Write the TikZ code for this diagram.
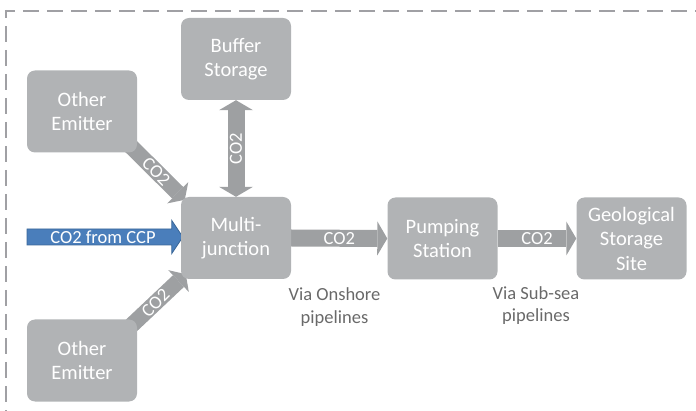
\documentclass[tikz,border=0pt]{standalone}
\usepackage{fontspec}
\setmainfont{Carlito}
\usetikzlibrary{arrows.meta,calc,backgrounds}
\definecolor{boxgray}{RGB}{177,179,181}
\definecolor{arrowgray}{RGB}{158,160,162}
\definecolor{ccpblue}{RGB}{74,126,187}
\definecolor{ccpedge}{RGB}{58,103,152}
\definecolor{labelgray}{RGB}{105,105,105}
\definecolor{framegray}{RGB}{160,160,164}
\begin{document}
\begin{tikzpicture}[x=1pt,y=-1pt,
  unit/.style={fill=boxgray, rounded corners=8pt, minimum width=110pt,
    minimum height=82pt, inner sep=0pt, text=white, align=center,
    font=\fontsize{20.5}{24.5}\selectfont},
  flow/.style={draw=arrowgray, line width=17pt},
  diagflow/.style={draw=arrowgray, line width=16pt},
  flowtip/.tip={Triangle[length=10pt,width=34pt,line width=0pt]},
  diagtip/.tip={Triangle[length=10pt,width=30pt,line width=0pt]},
  arrowtext/.style={text=white, inner sep=0pt, font=\fontsize{18.5}{22}\selectfont},
  note/.style={text=labelgray, align=center, inner sep=0pt,
    font=\fontsize{18.5}{22.5}\selectfont},
  frameline/.style={draw=framegray, line width=2.4pt, dash pattern=on 16pt off 8pt}
]
\useasboundingbox (0,0) rectangle (696,411);
\clip (0,0) rectangle (696,411);

% dashed frame (continues past the right and bottom edges)
\draw[frameline, dash phase=6pt] (4.8,11.3) -- (720,11.3);
\draw[frameline, dash phase=8pt] (6,10) -- (6,430);

% units
\node[unit] (buf) at (236,59) {Buffer\\Storage};
\node[unit] (oe1) at (82,111.5) {Other\\Emitter};
\node[unit] (mj)  at (236,238) {Multi-\\junction};
\node[unit] (oe2) at (82,360.5) {Other\\Emitter};
\node[unit] (ps)  at (442.5,238.5) {Pumping\\Station};
\node[unit] (gs)  at (631.5,238.5) {Geological\\Storage\\Site};

% notes
\node[note] (onshore) at (334.5,307) {Via Onshore\\pipelines};
\node[note] (subsea) at (536,305.5) {Via Sub-sea\\pipelines};

\begin{scope}[on background layer]
  % blue input arrow
  \coordinate (ccp) at (27,237);
  \coordinate (ccptip) at ($(ccp -| mj.west)+(2,0)$);
  \draw[fill=ccpblue, draw=ccpedge, line width=0.8pt, line join=miter]
    ($(ccp)+(0,-8)$) -- ($(ccptip)+(-11,-8)$) -- ($(ccptip)+(-11,-16.5)$)
    -- (ccptip) -- ($(ccptip)+(-11,16.5)$) -- ($(ccptip)+(-11,8)$)
    -- ($(ccp)+(0,8)$) -- cycle;
  \node[arrowtext] (ccptext) at ($(ccp)+(76,0)$) {CO2 from CCP};

  % grey CO2 arrows
  \draw[flow, flowtip-flowtip] (buf.south) -- (mj.north)
    node[midway, arrowtext, rotate=90] {CO2};
  \draw[diagflow, -diagtip] ($(oe1.south east)+(-12,-12)$) -- ($(mj.north west)+(4,3)$)
    node[pos=0.52, arrowtext, rotate=-45] {CO2};
  \draw[diagflow, -diagtip] ($(oe2.north east)+(-12,12)$) -- ($(mj.south west)+(5,-5)$)
    node[pos=0.5, arrowtext, rotate=45] {CO2};
  \draw[flow, -flowtip] (mj.east) -- (ps.west)
    node[midway, arrowtext] {CO2};
  \draw[flow, -flowtip] (ps.east) -- (gs.west)
    node[midway, arrowtext] {CO2};
\end{scope}
\end{tikzpicture}
\end{document}
